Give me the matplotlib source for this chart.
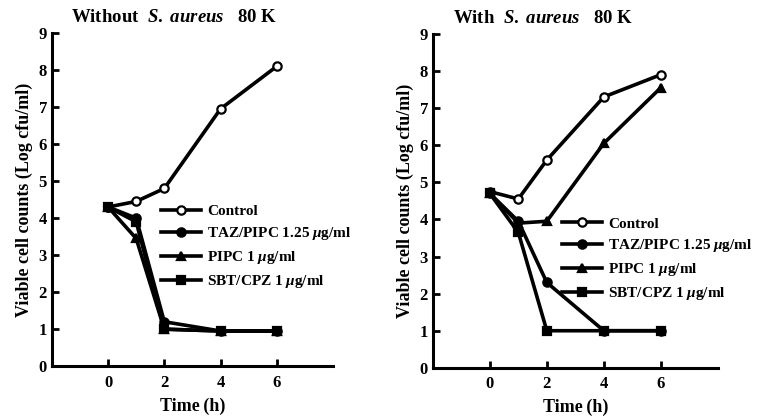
import matplotlib
matplotlib.use("Agg")
import matplotlib.pyplot as plt

plt.rcParams['font.family'] = ['Liberation Serif', 'DejaVu Serif']
plt.rcParams['font.weight'] = 'bold'
plt.rcParams['mathtext.fontset'] = 'custom'
plt.rcParams['mathtext.it'] = 'Liberation Serif:italic:bold'
plt.rcParams['mathtext.rm'] = 'Liberation Serif:bold'

time = [0, 1, 2, 4, 6]
series_names = ["Control", r"TAZ/PIPC 1.25 $\mu$g/ml", r"PIPC 1 $\mu$g/ml", r"SBT/CPZ 1 $\mu$g/ml"]
markers = ["o", "o", "^", "s"]
fills = ["white", "black", "black", "black"]

without_control = [4.3, 4.45, 4.8, 6.95, 8.1]
without_taz = [4.3, 4.0, 1.2, 0.95, 0.95]
without_pipc = [4.3, 3.45, 1.0, 0.95, 0.95]
without_sbt = [4.3, 3.9, 1.0, 0.95, 0.95]

with_control = [4.75, 4.55, 5.6, 7.3, 7.9]
with_taz = [4.7, 3.95, 2.3, 1.0, 1.0]
with_pipc = [4.7, 3.9, 3.95, 6.05, 7.55]
with_sbt = [4.7, 3.65, 1.0, 1.0, 1.0]

x_ticks = [0, 2, 4, 6]
y_ticks = list(range(0, 10))

fig = plt.figure(figsize=(7.62, 4.18), dpi=100)
ax1 = fig.add_axes([0.068, 0.124, 0.369, 0.797])
ax2 = fig.add_axes([0.568, 0.120, 0.374, 0.799])

panels = [
    (ax1, [without_control, without_taz, without_pipc, without_sbt],
     r"Without  $S.\ aureus$   80 K", (0.39, 0.485)),
    (ax2, [with_control, with_taz, with_pipc, with_sbt],
     r"With  $S.\ aureus$   80 K", (0.455, 0.452)),
]

for ax, data, title, legpos in panels:
    for vals, name, m, fc in zip(data, series_names, markers, fills):
        ax.plot(time, vals, color="black", lw=2.6, marker=m, markersize=6,
                markerfacecolor=fc, markeredgecolor="black", markeredgewidth=1.6,
                label=name)
    ax.set_xlim(-2, 8)
    ax.set_ylim(0, 9)
    ax.set_xticks(x_ticks)
    ax.set_yticks(y_ticks)
    for s in ["top", "right"]:
        ax.spines[s].set_visible(False)
    for s in ["left", "bottom"]:
        ax.spines[s].set_linewidth(2.2)
    ax.tick_params(direction="in", width=2, length=5, labelsize=12)
    ax.tick_params(axis="x", pad=6)
    for lab in ax.get_xticklabels() + ax.get_yticklabels():
        lab.set_fontweight("bold")
    ax.set_xlabel("Time\u2009(h)", fontsize=13, fontweight="bold", labelpad=5)
    ax.set_ylabel("Viable cell counts (Log cfu/ml)", fontsize=13, fontweight="bold", labelpad=4)
    ax.set_title(title, fontsize=13.5, fontweight="bold", loc="left", x=0.07, pad=8)
    leg = ax.legend(loc="upper left", bbox_to_anchor=legpos, frameon=False,
                    fontsize=11, handlelength=2.6, handletextpad=0.4,
                    labelspacing=0.45, borderaxespad=0, borderpad=0, numpoints=1)

fig.savefig("out.png", dpi=100)
